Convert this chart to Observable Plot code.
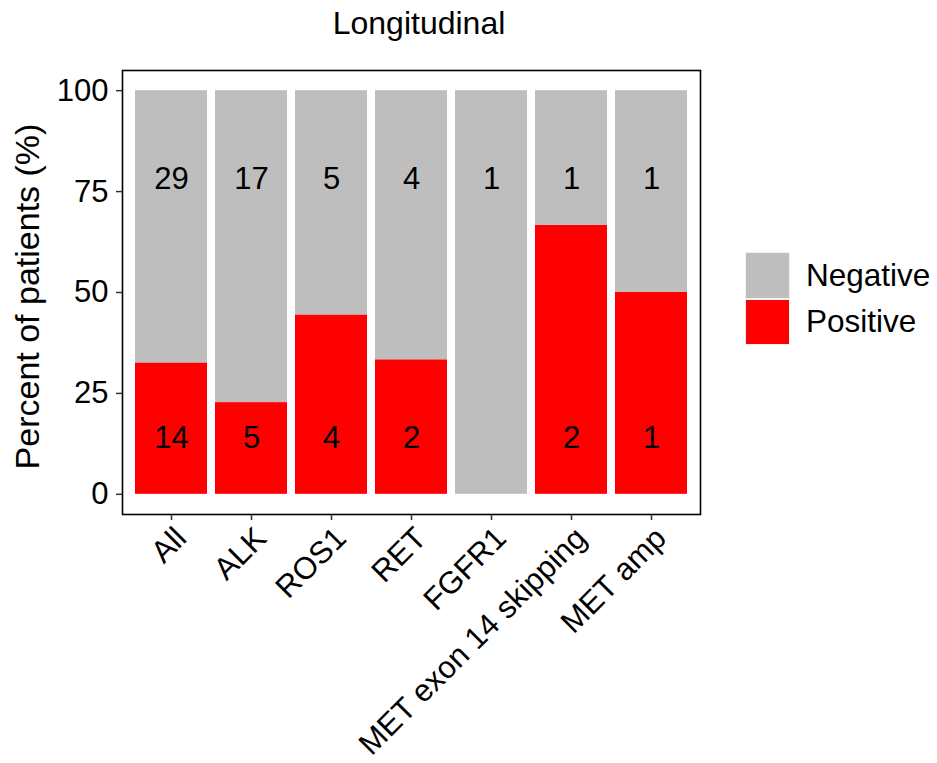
<!DOCTYPE html>
<html><head><meta charset="utf-8">
<script src="https://cdn.jsdelivr.net/npm/d3@7"></script>
<script src="https://cdn.jsdelivr.net/npm/@observablehq/plot@0.6"></script>
<style>
body{margin:0;background:#fff;font-family:"Liberation Sans",Arial,sans-serif;color:#000;}
#wrap{position:relative;width:937px;height:763px;overflow:hidden;}
#title{position:absolute;left:419px;top:7px;transform:translateX(-50%);font-size:32px;line-height:1;white-space:nowrap;}
#chart{position:absolute;left:0;top:60px;}
#legend{position:absolute;left:745px;top:252px;}
.row{display:flex;align-items:center;height:46.5px;}
.key{width:45px;height:46.5px;box-sizing:border-box;border:1.5px solid #f2f2f2;background:#f2f2f2;}
.key div{width:100%;height:100%;}
.lab{margin-left:16px;font-size:31.5px;line-height:1;}
</style></head>
<body><div id="wrap"><div id="title">Longitudinal</div><div id="chart"></div><div id="legend"></div></div>
<script>
const genes = ["All","ALK","ROS1","RET","FGFR1","MET exon 14 skipping","MET amp"];
const positive = [14,5,4,2,0,2,1];
const negative = [29,17,5,4,1,1,1];
const statuses = ["Negative","Positive"];
const colors = ["#bebebe","#ff0000"];
const yTicks = [0,25,50,75,100];
const labelY = {Negative: 78, Positive: 14};
const yTitle = "Percent of patients (%)";

const rows = genes.flatMap((g,i)=>{
  const total = positive[i]+negative[i];
  return [
    {gene:g,status:"Positive",count:positive[i],pct:100*positive[i]/total},
    {gene:g,status:"Negative",count:negative[i],pct:100*negative[i]/total}];
});

const chart = Plot.plot({
  width:937,height:703,
  marginLeft:122, marginRight:237, marginTop:10, marginBottom:249,
  style:{fontFamily:"Liberation Sans, Arial, sans-serif", fontSize:"31px", color:"black", background:"white", overflow:"visible"},
  x:{domain:genes, paddingInner:0.1, paddingOuter:0.15, label:null},
  y:{domain:[-5,105], label:null},
  color:{domain:statuses, range:colors},
  marks:[
    Plot.barY(rows,{x:"gene", y:"pct", fill:"status", order:["Positive","Negative"]}),
    Plot.text(rows.filter(d=>d.count>0),{x:"gene", y:d=>labelY[d.status], text:"count", fontSize:31, fill:"black"}),
    Plot.frame({stroke:"black", strokeWidth:1.6}),
    Plot.axisY({ticks:yTicks, tickSize:6, tickPadding:8, stroke:"#333", strokeWidth:1.5, fontSize:31, fill:"black", label:null}),
    Plot.axisX({tickSize:6, stroke:"#333", strokeWidth:1.5, fill:"none", label:null}),
    Plot.text(genes,{x:d=>d, frameAnchor:"bottom", textAnchor:"end", lineAnchor:"top", rotate:-45, dx:1, dy:10, fontSize:31, fill:"black"}),
    Plot.text([yTitle],{frameAnchor:"left", textAnchor:"middle", dx:-94, dy:4, rotate:-90, fontSize:34, fill:"black"})
  ]
});
document.getElementById("chart").appendChild(chart);

const legend = document.getElementById("legend");
statuses.forEach((s,i)=>{
  const row = document.createElement("div"); row.className="row";
  const key = document.createElement("div"); key.className="key";
  const sw = document.createElement("div"); sw.style.background = colors[i];
  key.appendChild(sw);
  const lab = document.createElement("span"); lab.className="lab"; lab.textContent = s;
  row.appendChild(key); row.appendChild(lab);
  legend.appendChild(row);
});
</script></body></html>
